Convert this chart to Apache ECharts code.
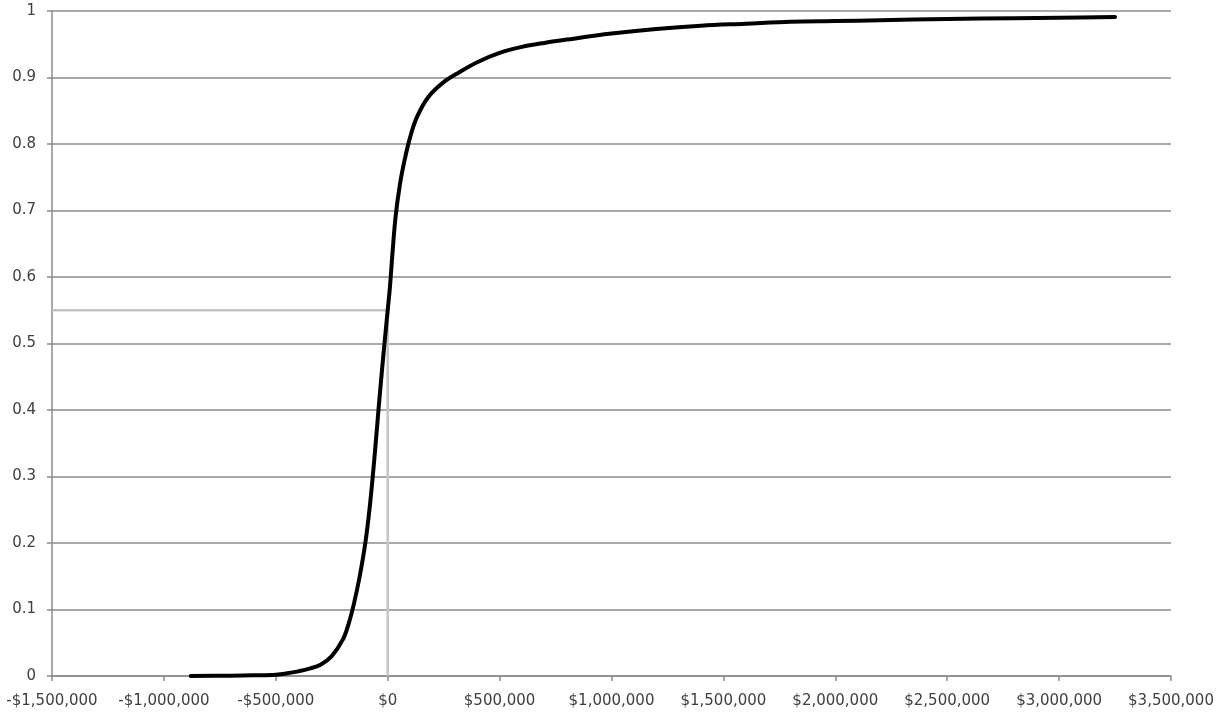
<!DOCTYPE html>
<html>
<head>
<meta charset="utf-8">
<script src="https://cdn.jsdelivr.net/npm/echarts@6/dist/echarts.min.js"></script>
<style>
  html, body { margin: 0; padding: 0; background: #ffffff; }
  #chart { width: 1226px; height: 715px; }
</style>
</head>
<body>
<div id="chart"></div>
<script>
// Cumulative probability of net outcome (dollars)
const outcomeValues = [
  -880000, -700000, -600000, -500000, -450000, -400000, -350000, -300000,
  -250000, -200000, -175000, -150000, -125000, -100000, -80000, -60000,
  -40000, -20000, 0, 10000, 20000, 35000, 55000, 75000, 100000, 130000,
  180000, 250000, 320000, 400000, 500000, 600000, 700000, 800000,
  1000000, 1200000, 1400000, 1600000, 1800000, 2000000, 2200000,
  2500000, 2800000, 3000000, 3250000
];
const cumulativeProb = [
  0, 0.0004, 0.001, 0.002, 0.004, 0.007, 0.011, 0.017,
  0.03, 0.055, 0.078, 0.11, 0.15, 0.2, 0.255, 0.325,
  0.405, 0.48, 0.55, 0.585, 0.63, 0.69, 0.74, 0.775, 0.81, 0.84,
  0.87, 0.893, 0.908, 0.923, 0.937, 0.946, 0.952, 0.957,
  0.966, 0.973, 0.978, 0.981, 0.984, 0.985, 0.986,
  0.988, 0.989, 0.990, 0.991
];

// Marker for break-even point: probability of losing money
const breakEvenX = 0;
const breakEvenProb = 0.55;

// Axis ranges and tick spacing
const xTicks = [-1500000, -1000000, -500000, 0, 500000, 1000000, 1500000, 2000000, 2500000, 3000000, 3500000];
const yTicks = [0, 0.1, 0.2, 0.3, 0.4, 0.5, 0.6, 0.7, 0.8, 0.9, 1];

function dollars(v) {
  const s = Math.abs(v).toString().replace(/\B(?=(\d{3})+(?!\d))/g, ',');
  return (v < 0 ? '-$' : '$') + s;
}

const curve = outcomeValues.map((x, i) => [x, cumulativeProb[i]]);
const guide = [
  [xTicks[0], breakEvenProb],
  [breakEvenX, breakEvenProb],
  [breakEvenX, yTicks[0]]
];

const axisGrey = '#8c8c8c';
const labelFont = { color: '#404040', fontSize: 15, fontFamily: 'DejaVu Sans, sans-serif' };

const chart = echarts.init(document.getElementById('chart'), null, { renderer: 'canvas' });
chart.setOption({
  animation: false,
  backgroundColor: '#ffffff',
  grid: { left: 52, right: 55, top: 11, bottom: 39, containLabel: false },
  xAxis: {
    type: 'value',
    min: xTicks[0],
    max: xTicks[xTicks.length - 1],
    interval: 500000,
    axisLine: { show: true, onZero: false, lineStyle: { color: axisGrey, width: 1.5 } },
    axisTick: { show: true, length: 5, lineStyle: { color: axisGrey, width: 1.5 } },
    splitLine: { show: false },
    axisLabel: Object.assign({ margin: 18, formatter: dollars }, labelFont)
  },
  yAxis: {
    type: 'value',
    min: yTicks[0],
    max: yTicks[yTicks.length - 1],
    interval: 0.1,
    axisLine: { show: true, onZero: false, lineStyle: { color: axisGrey, width: 1.5 } },
    axisTick: { show: true, length: 5, lineStyle: { color: axisGrey, width: 1.5 } },
    splitLine: { show: true, lineStyle: { color: axisGrey, width: 1.5 } },
    axisLabel: Object.assign({
      margin: 16,
      formatter: v => String(Math.round(v * 10) / 10)
    }, labelFont)
  },
  series: [
    {
      type: 'line',
      data: guide,
      symbol: 'none',
      silent: true,
      lineStyle: { color: '#c4c4c4', width: 2.5 },
      z: 2
    },
    {
      type: 'line',
      data: curve,
      symbol: 'none',
      smooth: 0.35,
      lineStyle: { color: '#000000', width: 4, cap: 'round', join: 'round' },
      z: 3
    }
  ]
});
</script>
</body>
</html>
